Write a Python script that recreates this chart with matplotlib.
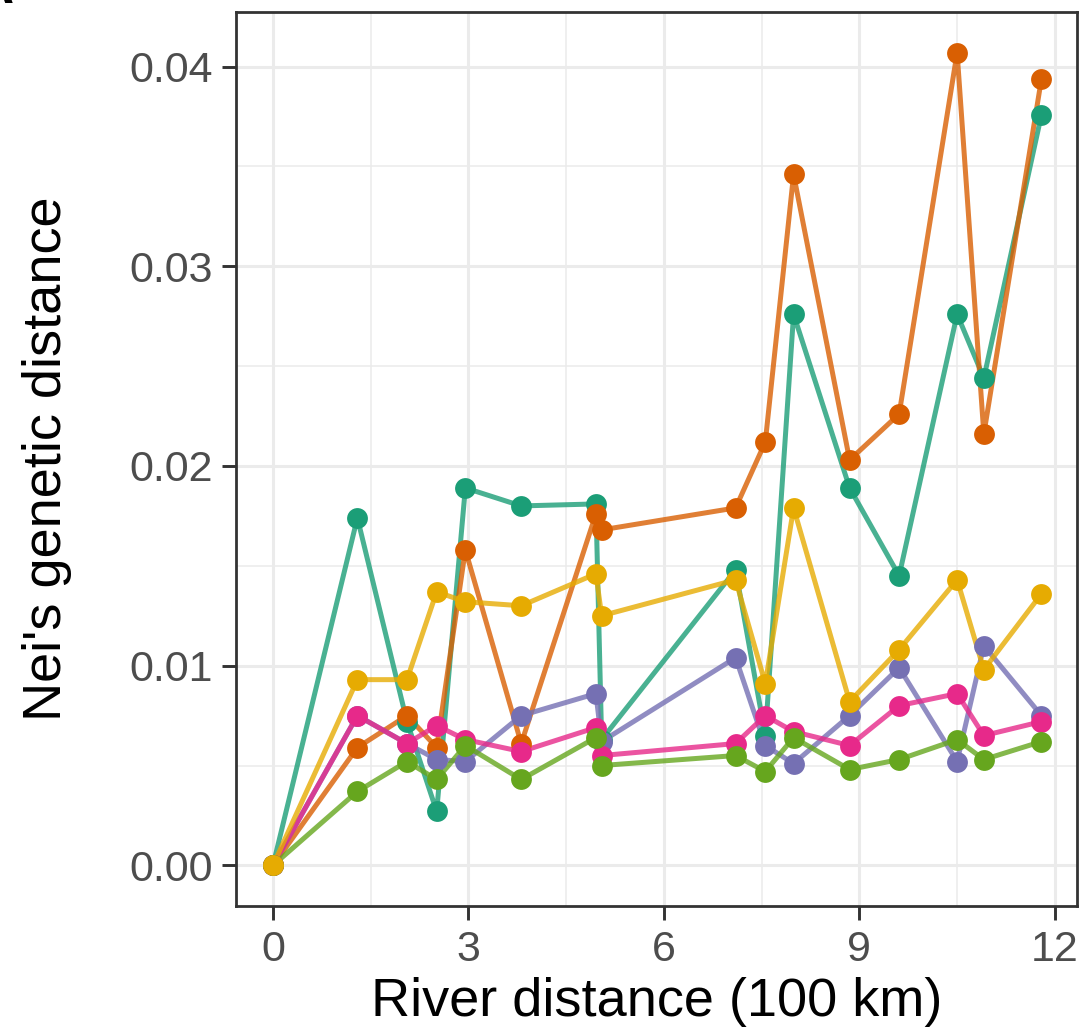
import numpy as np
import matplotlib
matplotlib.use("Agg")
import matplotlib.pyplot as plt
from matplotlib.ticker import FixedLocator

plt.rcParams['font.family'] = ['Liberation Sans', 'DejaVu Sans']

# river distance (100 km) of each site
river_dist = [0, 1.295, 2.056, 2.512, 2.952, 3.81, 4.956, 5.044, 7.10, 7.556,
              7.99, 8.85, 9.61, 10.50, 10.91, 11.795]

# Nei's genetic distance, one list per population (Dark2 order)
nei_teal = [0, 0.0174, 0.0072, 0.0027, 0.0189, 0.0180, 0.0181, 0.0063, 0.0148, 0.0065,
            0.0276, 0.0189, 0.0145, 0.0276, 0.0244, 0.0376]
nei_orange = [0, 0.0059, 0.0075, 0.0059, 0.0158, 0.0061, 0.0176, 0.0168, 0.0179, 0.0212,
              0.0346, 0.0203, 0.0226, 0.0407, 0.0216, 0.0394]
nei_purple = [0, 0.0075, 0.0061, 0.0053, 0.0052, 0.0075, 0.0086, 0.0062, 0.0104, 0.0060,
              0.0051, 0.0075, 0.0099, 0.0052, 0.0110, 0.0075]
nei_pink = [0, 0.0075, 0.0061, 0.0070, 0.0063, 0.0057, 0.0069, 0.0055, 0.0061, 0.0075,
            0.0067, 0.0060, 0.0080, 0.0086, 0.0065, 0.0072]
nei_green = [0, 0.0037, 0.0052, 0.0043, 0.0060, 0.0043, 0.0064, 0.0050, 0.0055, 0.0047,
             0.0064, 0.0048, 0.0053, 0.0063, 0.0053, 0.0062]
nei_yellow = [0, 0.0093, 0.0093, 0.0137, 0.0132, 0.0130, 0.0146, 0.0125, 0.0143, 0.0091,
              0.0179, 0.0082, 0.0108, 0.0143, 0.0098, 0.0136]

x_ticks = [0, 3, 6, 9, 12]
y_ticks = [0, 0.01, 0.02, 0.03, 0.04]
y_ticklabels = ['0.00', '0.01', '0.02', '0.03', '0.04']

series = [nei_teal, nei_orange, nei_purple, nei_pink, nei_green, nei_yellow]
colors = ['#1B9E77', '#D95F02', '#7570B3', '#E7298A', '#66A61E', '#E6AB02']

fig = plt.figure(figsize=(10.81, 10.35), dpi=100)
ax = fig.add_axes([236/1081, 1 - 906/1035, (1077-236)/1081, (906-12)/1035])

for vals, c in zip(series, colors):
    ax.plot(river_dist, vals, color=c, lw=3.6, alpha=0.8, zorder=3,
            solid_capstyle='butt', solid_joinstyle='round')
    ax.plot(river_dist, vals, 'o', color=c, ms=15, mec='none', zorder=4)

ymax = max(max(s) for s in series)
ax.set_xlim(-0.568, 12.34)
ax.set_ylim(-0.05*ymax, 1.05*ymax)

ax.xaxis.set_major_locator(FixedLocator(x_ticks))
ax.xaxis.set_minor_locator(FixedLocator([1.5, 4.5, 7.5, 10.5]))
ax.yaxis.set_major_locator(FixedLocator(y_ticks))
ax.yaxis.set_minor_locator(FixedLocator([0.005, 0.015, 0.025, 0.035]))
ax.set_yticklabels(y_ticklabels)

ax.grid(which='major', color='#EBEBEB', lw=2.2, zorder=0)
ax.grid(which='minor', color='#EBEBEB', lw=1.1, zorder=0)
ax.set_axisbelow(True)

for sp in ax.spines.values():
    sp.set_color('#333333')
    sp.set_linewidth(2.0)

ax.tick_params(which='major', length=10, width=2.1, color='#333333',
               labelsize=31, labelcolor='#4D4D4D', pad=7)
ax.tick_params(which='minor', length=0)

ax.set_xlabel('River distance (100 km)', fontsize=39, color='black', labelpad=5)
ax.set_ylabel("Nei's genetic distance", fontsize=39, color='black', labelpad=41)

# panel tag, mostly cut off at the top-left corner like the reference
fig.text(14/1081, 1 - 3/1035, 'A', fontsize=38, fontweight='bold',
         ha='right', va='baseline')

fig.savefig('out.png', dpi=100)
